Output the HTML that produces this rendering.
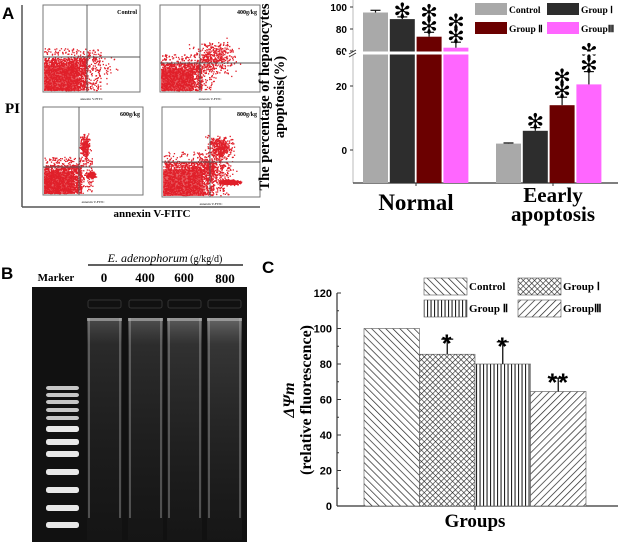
<!DOCTYPE html>
<html><head><meta charset="utf-8"><style>
body{margin:0;background:#fff;width:620px;height:544px;overflow:hidden;font-family:"Liberation Serif",serif}
svg{position:absolute;left:0;top:0}
</style></head><body>
<svg id="fig" width="620" height="544" viewBox="0 0 620 544" xmlns="http://www.w3.org/2000/svg">
<defs>
<pattern id="pCtrl" width="5" height="5" patternUnits="userSpaceOnUse" patternTransform="rotate(-45)"><rect width="5" height="5" fill="#fff"/><line x1="0" y1="0" x2="0" y2="5" stroke="#222" stroke-width="1.4"/></pattern>
<pattern id="pG1" width="4" height="4" patternUnits="userSpaceOnUse" patternTransform="rotate(45)"><rect width="4" height="4" fill="#fff"/><line x1="0" y1="0" x2="0" y2="4" stroke="#222" stroke-width="1.2"/><line x1="0" y1="0" x2="4" y2="0" stroke="#222" stroke-width="1.2"/></pattern>
<pattern id="pG2" width="3.5" height="4" patternUnits="userSpaceOnUse"><rect width="3.5" height="4" fill="#fff"/><line x1="0.5" y1="0" x2="0.5" y2="4" stroke="#222" stroke-width="1.2"/></pattern>
<pattern id="pG3" width="5" height="5" patternUnits="userSpaceOnUse" patternTransform="rotate(45)"><rect width="5" height="5" fill="#fff"/><line x1="0" y1="0" x2="0" y2="5" stroke="#222" stroke-width="1.4"/></pattern>
<linearGradient id="laneG" x1="0" y1="0" x2="0" y2="1"><stop offset="0" stop-color="#aaa" stop-opacity="0.7"/><stop offset="0.12" stop-color="#777" stop-opacity="0.45"/><stop offset="0.6" stop-color="#555" stop-opacity="0.3"/><stop offset="1" stop-color="#333" stop-opacity="0.2"/></linearGradient>
</defs>

<text x="2" y="19" font-family="Liberation Sans" font-weight="bold" font-size="17">A</text>
<line x1="22" y1="5" x2="22" y2="207" stroke="#555" stroke-width="1.5"/>
<line x1="22" y1="207" x2="260" y2="207" stroke="#555" stroke-width="1.5"/>
<text x="5" y="113" font-weight="bold" font-size="15">PI</text>
<text x="152" y="217" font-weight="bold" font-size="11" text-anchor="middle">annexin V-FITC</text>
<g id="flow"></g>

<g id="chartA"></g>

<text x="1" y="279" font-family="Liberation Sans" font-weight="bold" font-size="17">B</text>
<text x="165" y="262" font-size="12" text-anchor="middle"><tspan font-style="italic">E. adenophorum</tspan><tspan font-size="10"> (g/kg/d)</tspan></text>
<line x1="88" y1="265" x2="243" y2="265" stroke="#000" stroke-width="1.2"/>
<text x="56" y="281" font-weight="bold" font-size="11" text-anchor="middle">Marker</text>
<text x="104" y="282" font-weight="bold" font-size="13" text-anchor="middle">0</text>
<text x="145" y="282" font-weight="bold" font-size="13" text-anchor="middle">400</text>
<text x="184" y="282" font-weight="bold" font-size="13" text-anchor="middle">600</text>
<text x="225" y="283" font-weight="bold" font-size="13" text-anchor="middle">800</text>
<g id="gel"></g>

<g id="chartC"></g>
</svg>
<script>
// ===== Chart A data =====
const aCategories=["Normal","Eearly apoptosis"];
const aGroups=["Control","Group Ⅰ","Group Ⅱ","GroupⅢ"];
const aNormal=[95,89,73,63];
const aNormalErr=[2,2,4,5];
const aEarly=[2,6,14,20.5];
const aEarlyErr=[0.2,1,2.5,4];
const aUpperTicks=[60,80,100];
const aLowerTicks=[0,20];
const aStars=[["","*","**","**"],["","*","**","**"]];
// ===== Chart C data =====
const cGroups=["Control","Group Ⅰ","Group Ⅱ","GroupⅢ"];
const cValues=[100,85.5,80,64.5];
const cErr=[0,8.5,12.5,7.5];
const cStars=["","*","*","**"];
const cTicks=[0,20,40,60,80,100,120];

const NS="http://www.w3.org/2000/svg";
function mk(parent,tag,attrs,txt){const e=document.createElementNS(NS,tag);for(const k in attrs)e.setAttribute(k,attrs[k]);if(txt!==undefined)e.textContent=txt;parent.appendChild(e);return e;}

let seed=7;function rnd(){seed=(seed*16807)%2147483647;return (seed-1)/2147483646;}
function gauss(){return (rnd()+rnd()+rnd()-1.5)/1.5;}
const flow=document.getElementById('flow');
const panels=[
 {x:43,y:5,w:97,h:87,vx:87,hy:57,label:"Control",clouds:[[0,0,0.42,0.35,1600,1],[0.6,0.3,0.4,0.4,60,0]]},
 {x:160,y:5,w:100,h:87,vx:200,hy:63,label:"400g/kg",clouds:[[0,0,0.38,0.3,1200,1],[0.55,0.4,0.5,0.45,400,0]]},
 {x:43,y:107,w:100,h:88,vx:79,hy:167,label:"600g/kg",clouds:[[0,0,0.35,0.3,1400,1],[0.48,0.22,0.1,0.07,300,0],[0.42,0.55,0.12,0.35,250,0]]},
 {x:162,y:107,w:98,h:90,vx:210,hy:162,label:"800g/kg",clouds:[[0,0,0.48,0.35,1500,1],[0.7,0.15,0.25,0.06,500,0],[0.6,0.55,0.3,0.3,400,0],[0.5,0.3,0.5,0.4,300,0]]}
];
panels.forEach((p,i)=>{
 const g=mk(flow,'g',{});
 
 
 mk(g,'rect',{x:p.x,y:p.y,width:p.w,height:p.h,fill:'#fff',stroke:'#777','stroke-width':1});
 p.clouds.forEach(c=>{
  if(c[5]){mk(g,'rect',{x:p.x+1,y:p.y+p.h-1-c[3]*0.85*p.h,width:c[2]*0.85*p.w,height:c[3]*0.85*p.h,fill:'#e02a30',opacity:0.75});}
  for(let k=0;k<c[4];k++){
   let fx,fy;
   if(c[5]){fx=rnd()*c[2]*1.1;fy=rnd()*c[3]*1.1;if(rnd()<0.3){fx*=1.3;fy*=1.3;}}
   else{fx=c[0]+gauss()*c[2]*0.6;fy=c[1]+gauss()*c[3]*0.6;}
   if(fx<0||fx>1||fy<0||fy>1)continue;
   mk(g,'rect',{x:(p.x+1+fx*(p.w-3)).toFixed(1),y:(p.y+p.h-2-fy*(p.h-3)).toFixed(1),width:1.3,height:1.3,fill:'#e0202a'});
  }
 });
 mk(g,'line',{x1:p.vx,y1:p.y,x2:p.vx,y2:p.y+p.h,stroke:'#555','stroke-width':0.9});
 mk(g,'line',{x1:p.x,y1:p.hy,x2:p.x+p.w,y2:p.hy,stroke:'#555','stroke-width':0.9});
 mk(g,'text',{x:p.x+p.w-3,y:p.y+9,'font-size':6,'font-weight':'bold','text-anchor':'end'},p.label);
 mk(g,'text',{x:p.x+p.w/2,y:p.y+p.h+8,'font-size':3.5,'text-anchor':'middle'},'annexin V-FITC');
});

(function(){
 const g=document.getElementById('chartA');
 const yBase=183, low0=150, lowScale=3.2, upScale=1.1, up100=7;
 const yL=v=>low0-v*lowScale;
 const yU=v=>up100+(100-v)*upScale;
 const breakY=53;
 const axX=353;
 const bandX=[363,496], bw=25, gap=1.8;
 const colors=["#a9a9a9","#2d2d2d","#6b0000","#ff66ff"];
 const ax=mk(g,'line',{x1:axX,y1:0,x2:axX,y2:yBase,stroke:'#bbb','stroke-width':1});
 
 const xa=mk(g,'line',{x1:axX,y1:yBase,x2:618,y2:yBase,stroke:'#333','stroke-width':1.2});
 
 [416,553].forEach(x=>mk(g,'line',{x1:x,y1:yBase,x2:x,y2:yBase+3,stroke:'#333'}));
 aUpperTicks.forEach(v=>{const t=mk(g,'text',{x:axX-6,y:yU(v)+4,'font-family':'Liberation Sans','font-weight':'bold','font-size':10,'text-anchor':'end'},v);
  
  mk(g,'line',{x1:axX-3,y1:yU(v),x2:axX,y2:yU(v),stroke:'#333'});});
 aLowerTicks.forEach(v=>{const t=mk(g,'text',{x:axX-6,y:yL(v)+4,'font-family':'Liberation Sans','font-weight':'bold','font-size':10,'text-anchor':'end'},v);
  
  mk(g,'line',{x1:axX-3,y1:yL(v),x2:axX,y2:yL(v),stroke:'#333'});});
 function bar(x,top,errTop,col,name,stars){
  const r=mk(g,'rect',{x:x,y:top,width:bw,height:yBase-top,fill:col});
  
  mk(g,'line',{x1:x+bw/2,y1:top,x2:x+bw/2,y2:errTop,stroke:'#111','stroke-width':1.2});
  mk(g,'line',{x1:x+bw/2-5,y1:errTop,x2:x+bw/2+5,y2:errTop,stroke:'#111','stroke-width':1.2});
  for(let s=0;s<stars.length;s++){
   const st=mk(g,'text',{x:x+bw/2,y:errTop-3-(stars.length-1-s)*14+4,'font-family':'DejaVu Sans','font-size':21,'text-anchor':'middle'},'✻');
   
  }
 }
 aNormal.forEach((v,i)=>bar(bandX[0]+i*(bw+gap),yU(v),yU(v+aNormalErr[i]),colors[i],'bar-normal-'+i,aStars[0][i]));
 aEarly.forEach((v,i)=>bar(bandX[1]+i*(bw+gap),yL(v),yL(v+aEarlyErr[i]),colors[i],'bar-early-'+i,aStars[1][i]));
 mk(g,'rect',{x:axX-8,y:breakY-1.5,width:270,height:3,fill:'#fff'});
 mk(g,'line',{x1:axX-4,y1:breakY+1,x2:axX+3,y2:breakY-3,stroke:'#333'});
 mk(g,'line',{x1:axX-4,y1:breakY+4,x2:axX+3,y2:breakY,stroke:'#333'});
 const yl=mk(g,'text',{transform:'translate(272,97) rotate(-90)','font-weight':'bold','font-size':14.5,'text-anchor':'middle'});
 
 mk(yl,'tspan',{x:0,dy:-3},'The percentage of hepatocytes');
 mk(yl,'tspan',{x:0,dy:15},'apoptosis(%)');
 const c1=mk(g,'text',{x:416,y:210,'font-weight':'bold','font-size':23,'text-anchor':'middle'},aCategories[0]);
 
 const c2=mk(g,'text',{x:553,y:202,'font-weight':'bold','font-size':21,'text-anchor':'middle'});
 
 mk(c2,'tspan',{x:553,dy:0},'Eearly');mk(c2,'tspan',{x:553,dy:19},'apoptosis');
 const legPos=[[475,3],[547,3],[475,22],[547,22]];
 aGroups.forEach((n,i)=>{
  const lg=mk(g,'g',{});
  
  mk(lg,'rect',{x:legPos[i][0],y:legPos[i][1],width:32,height:12,fill:colors[i]});
  mk(lg,'text',{x:legPos[i][0]+34,y:legPos[i][1]+10,'font-weight':'bold','font-size':9.5},n);
 });
})();

(function(){
 const g=document.getElementById('gel');
 const bg=mk(g,'rect',{x:32,y:287,width:215,height:255,fill:'#111'});
 
 const bands=[388,395,402,410,418,428,441,453,471,489,507,524];
 bands.forEach((y,i)=>{const b=mk(g,'rect',{x:46,y:y-2,width:33,height:i>4?6:4,rx:2.5,fill:'#f4f4f4',opacity:i>4?0.95:0.8});
  });
 [[87,0.55],[128,0.6],[167,0.7],[207,0.8]].forEach((l,i)=>{
  const r=mk(g,'rect',{x:l[0],y:318,width:35,height:222,fill:'url(#laneG)',opacity:l[1]});
  
  mk(g,'rect',{x:l[0]+1,y:318,width:2,height:200,fill:'#bbb',opacity:0.35});
  mk(g,'rect',{x:l[0]+32,y:318,width:2,height:200,fill:'#bbb',opacity:0.35});
  mk(g,'rect',{x:l[0],y:318,width:35,height:3,fill:'#bbb',opacity:0.6});
  mk(g,'rect',{x:l[0]+1,y:300,width:33,height:8,rx:2,fill:'none',stroke:'#333','stroke-width':1});
 });
})();

(function(){
 const g=document.getElementById('chartC');
 const y0=506, scale=213/120, axX=337;
 const y=v=>y0-v*scale;
 const pats=["url(#pCtrl)","url(#pG1)","url(#pG2)","url(#pG3)"];
 const bx0=364, bw=55.5;
 const pl=mk(g,'text',{x:262,y:273,'font-family':'Liberation Sans','font-weight':'bold','font-size':17},'C');
 
 const ya=mk(g,'line',{x1:axX,y1:y(120),x2:axX,y2:y0,stroke:'#333','stroke-width':1.2});
 
 const xa=mk(g,'line',{x1:axX,y1:y0,x2:618,y2:y0,stroke:'#333','stroke-width':1.2});
 
 mk(g,'line',{x1:475,y1:y0,x2:475,y2:y0+4,stroke:'#333'});
 cTicks.forEach(v=>{
  mk(g,'line',{x1:axX,y1:y(v),x2:axX+4,y2:y(v),stroke:'#333'});
  if(v<120)mk(g,'line',{x1:axX,y1:y(v+10),x2:axX+2,y2:y(v+10),stroke:'#333'});
  const t=mk(g,'text',{x:axX-5,y:y(v)+4,'font-family':'Liberation Sans','font-weight':'bold','font-size':11,'text-anchor':'end'},v);
  
 });
 cValues.forEach((v,i)=>{
  const x=bx0+i*bw;
  const r=mk(g,'rect',{x:x,y:y(v),width:bw,height:y0-y(v),fill:pats[i],stroke:'#555','stroke-width':0.6});
  
  if(cErr[i]>0){
   const et=y(v+cErr[i]);
   mk(g,'line',{x1:x+bw/2,y1:y(v),x2:x+bw/2,y2:et,stroke:'#111','stroke-width':1.3});
   mk(g,'line',{x1:x+bw/2-6,y1:et,x2:x+bw/2+6,y2:et,stroke:'#111','stroke-width':1.3});
  }
  if(cStars[i]){
   const s=mk(g,'text',{x:x+bw/2,y:y(v+cErr[i])+13,'font-family':'Liberation Sans','font-weight':'bold','font-size':25,'text-anchor':'middle','letter-spacing':'1'},cStars[i]);
   
  }
 });
 const yl=mk(g,'text',{transform:'translate(302,400) rotate(-90)','font-weight':'bold','font-size':16,'text-anchor':'middle'});
 
 mk(yl,'tspan',{x:0,dy:-8,'font-style':'italic'},'ΔΨm');
 mk(yl,'tspan',{x:0,dy:17},'(relative fluorescence)');
 const xt=mk(g,'text',{x:475,y:527,'font-weight':'bold','font-size':19,'text-anchor':'middle'},'Groups');
 
 const legPos=[[424,278],[518,278],[424,300],[518,300]];
 cGroups.forEach((n,i)=>{
  const lg=mk(g,'g',{});
  
  mk(lg,'rect',{x:legPos[i][0],y:legPos[i][1],width:43,height:17,fill:pats[i],stroke:'#555','stroke-width':0.6});
  mk(lg,'text',{x:legPos[i][0]+45,y:legPos[i][1]+12,'font-weight':'bold','font-size':11},n);
 });
})();
</script>
</body></html>
